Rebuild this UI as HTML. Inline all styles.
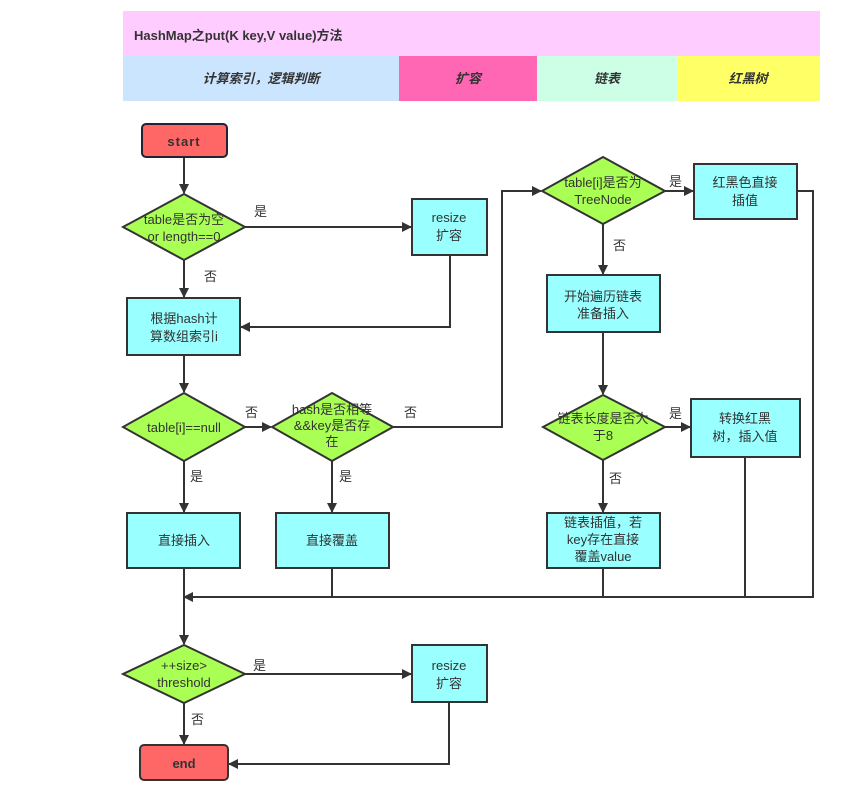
<!DOCTYPE html>
<html><head><meta charset="utf-8"><style>
html,body{margin:0;padding:0;background:#fff;}
svg{display:block;}
text{font-family:"Liberation Sans","Noto Sans CJK SC",sans-serif;fill:#333;font-size:13px;}
</style></head><body>
<svg width="846" height="790" viewBox="0 0 846 790" xmlns="http://www.w3.org/2000/svg">
<defs>
<marker id="a" markerWidth="10" markerHeight="10" refX="9" refY="5" orient="auto" markerUnits="userSpaceOnUse"><path d="M0,0 L10,5 L0,10 Z" fill="#333"/></marker>
</defs>
<rect x="123" y="11" width="697" height="45" fill="#ffccff"/>
<text x="134" y="40" font-weight="bold" font-size="14">HashMap之put(K key,V value)方法</text>
<rect x="123" y="56" width="276" height="45" fill="#cce5ff"/>
<rect x="399" y="56" width="138" height="45" fill="#ff66b3"/>
<rect x="537" y="56" width="140" height="45" fill="#ccffe6"/>
<rect x="677" y="56" width="143" height="45" fill="#ffff66"/>
<g font-style="italic" font-weight="bold" text-anchor="middle">
<text x="261" y="83">计算索引，逻辑判断</text>
<text x="468" y="83">扩容</text>
<text x="607" y="83">链表</text>
<text x="748" y="83">红黑树</text>
</g>
<g stroke="#333" stroke-width="2" fill="none">
<line x1="184" y1="157" x2="184" y2="193" marker-end="url(#a)"/>
<line x1="245" y1="227" x2="411" y2="227" marker-end="url(#a)"/>
<line x1="184" y1="260" x2="184" y2="297" marker-end="url(#a)"/>
<polyline points="450,255 450,327 241,327" marker-end="url(#a)"/>
<line x1="184" y1="355" x2="184" y2="392" marker-end="url(#a)"/>
<line x1="245" y1="427" x2="271" y2="427" marker-end="url(#a)"/>
<polyline points="393,427 502,427 502,191 541,191" marker-end="url(#a)"/>
<line x1="665" y1="191" x2="693" y2="191" marker-end="url(#a)"/>
<line x1="603" y1="224" x2="603" y2="274" marker-end="url(#a)"/>
<line x1="603" y1="332" x2="603" y2="394" marker-end="url(#a)"/>
<line x1="665" y1="427" x2="690" y2="427" marker-end="url(#a)"/>
<line x1="603" y1="460" x2="603" y2="512" marker-end="url(#a)"/>
<line x1="184" y1="461" x2="184" y2="512" marker-end="url(#a)"/>
<line x1="332" y1="461" x2="332" y2="512" marker-end="url(#a)"/>
<polyline points="797,191 813,191 813,597 184,597" marker-end="url(#a)"/>
<line x1="332" y1="568" x2="332" y2="597"/>
<line x1="603" y1="568" x2="603" y2="597"/>
<line x1="745" y1="457" x2="745" y2="597"/>
<line x1="184" y1="568" x2="184" y2="644" marker-end="url(#a)"/>
<line x1="245" y1="674" x2="411" y2="674" marker-end="url(#a)"/>
<line x1="184" y1="703" x2="184" y2="744" marker-end="url(#a)"/>
<polyline points="449,702 449,764 229,764" marker-end="url(#a)"/>
</g>
<g stroke="#333" stroke-width="2">
<rect x="142" y="124" width="85" height="33" rx="4" fill="#ff6666" stroke="#223"/>
<rect x="140" y="745" width="88" height="35" rx="4" fill="#ff6666"/>
<g fill="#99ffff">
<rect x="412" y="199" width="75" height="56"/>
<rect x="127" y="298" width="113" height="57"/>
<rect x="694" y="164" width="103" height="55"/>
<rect x="547" y="275" width="113" height="57"/>
<rect x="691" y="399" width="109" height="58"/>
<rect x="547" y="513" width="113" height="55"/>
<rect x="127" y="513" width="113" height="55"/>
<rect x="276" y="513" width="113" height="55"/>
<rect x="412" y="645" width="75" height="57"/>
</g>
<g fill="#aaff55">
<polygon points="184,194 245,227 184,260 123,227"/>
<polygon points="184,393 245,427 184,461 123,427"/>
<polygon points="332,393 393,427 332,461 272,427"/>
<polygon points="603,157 665,191 603,224 542,191"/>
<polygon points="603,395 665,427 603,460 543,427"/>
<polygon points="184,645 245,674 184,703 123,674"/>
</g>
</g>
<g text-anchor="middle">
<text x="184" y="146" font-weight="bold" font-size="15" letter-spacing="1">start</text>
<text x="184" y="768" font-weight="bold" font-size="14">end</text>
<text x="184" y="224">table是否为空</text><text x="184" y="241">or length==0</text>
<text x="449" y="222">resize</text><text x="449" y="240">扩容</text>
<text x="184" y="323">根据hash计</text><text x="184" y="341">算数组索引i</text>
<text x="184" y="432">table[i]==null</text>
<text x="332" y="414">hash是否相等</text><text x="332" y="430">&amp;&amp;key是否存</text><text x="332" y="446">在</text>
<text x="603" y="187">table[i]是否为</text><text x="603" y="204">TreeNode</text>
<text x="745" y="187">红黑色直接</text><text x="745" y="205">插值</text>
<text x="603" y="301">开始遍历链表</text><text x="603" y="318">准备插入</text>
<text x="603" y="423">链表长度是否大</text><text x="603" y="440">于8</text>
<text x="745" y="423">转换红黑</text><text x="745" y="441">树，插入值</text>
<text x="603" y="527">链表插值，若</text><text x="603" y="544">key存在直接</text><text x="603" y="561">覆盖value</text>
<text x="184" y="545">直接插入</text>
<text x="332" y="545">直接覆盖</text>
<text x="184" y="670">++size&gt;</text><text x="184" y="687">threshold</text>
<text x="449" y="670">resize</text><text x="449" y="688">扩容</text>
</g>
<g font-size="12">
<text x="254" y="216">是</text>
<text x="204" y="281">否</text>
<text x="245" y="417">否</text>
<text x="404" y="417">否</text>
<text x="190" y="481">是</text>
<text x="339" y="481">是</text>
<text x="669" y="186">是</text>
<text x="613" y="250">否</text>
<text x="669" y="418">是</text>
<text x="609" y="483">否</text>
<text x="253" y="670">是</text>
<text x="191" y="724">否</text>
</g>
</svg>
</body></html>
